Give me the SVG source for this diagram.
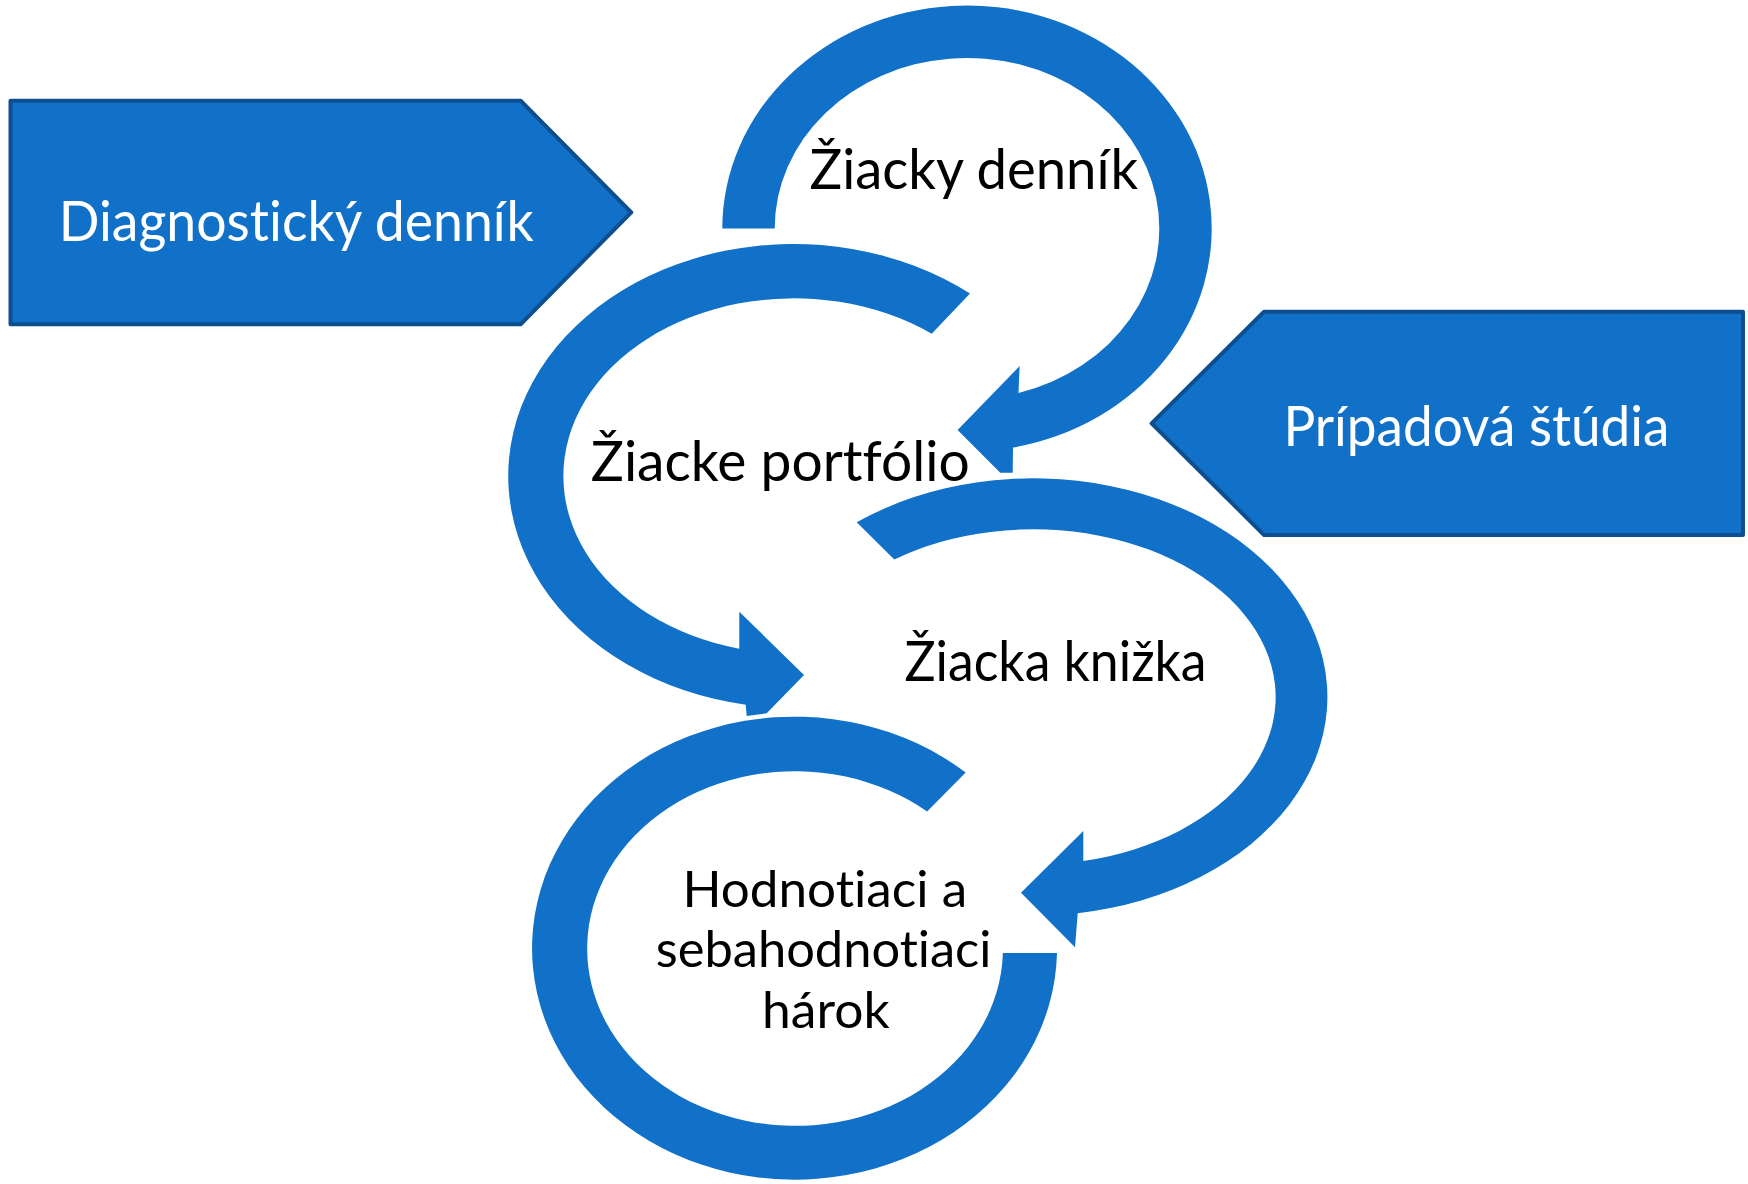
<svg xmlns="http://www.w3.org/2000/svg" width="1748" height="1184" viewBox="0 0 1748 1184">
<style>
.ring{fill:#1170C8}
.pent{fill:#1170C8;stroke:#0D4F8E;stroke-width:4;stroke-linejoin:round}
.lbl{font-family:"Lato","Open Sans","Liberation Sans",sans-serif;font-size:56px;fill:#000;text-anchor:middle;font-variant-ligatures:none;font-feature-settings:"liga" 0,"clig" 0}
.sm{font-size:50px}
.wl{fill:#fff}
</style>
<rect width="1748" height="1184" fill="#fff"/>
<g id="connectors"></g>
<g id="node-hodnotiaci">
<path class="ring" d="M1057,953 A262.5,231.5 0 1 1 965.7,772.6 L927.1,811.6 A207.9,177.3 0 1 0 1002.9,953 Z"/>
<text class="lbl sm" x="824.8" y="906.5" textLength="284.6" lengthAdjust="spacingAndGlyphs">Hodnotiaci a</text>
<text class="lbl sm" x="823.6" y="967" textLength="335.7" lengthAdjust="spacingAndGlyphs">sebahodnotiaci</text>
<text class="lbl sm" x="825.8" y="1027.5" textLength="127.6" lengthAdjust="spacingAndGlyphs">hárok</text>
</g>
<g id="node-kniz">
<path class="ring" d="M856.7,522.2 A294,218.7 0 1 1 1077.7,913.2 L1075,947.3 L1021,892.7 L1083.3,831 L1083.3,861.1 A242.4,167.7 0 1 0 894.3,559.6 Z"/>
<text class="lbl" x="1055.5" y="681" textLength="302" lengthAdjust="spacingAndGlyphs">Žiacka knižka</text>
</g>
<g id="node-portfolio">
<path class="ring" d="M970,293.6 A285.4,232 0 1 0 745.7,704.7 L746.7,716 L766.7,713.3 L804,675 L739.3,611.7 L739.3,648.7 A230.4,177.7 0 1 1 931.7,333.7 Z"/>
<text class="lbl" x="780.3" y="480.7" textLength="379" lengthAdjust="spacingAndGlyphs">Žiacke portfólio</text>
</g>
<g id="node-dennik">
<path class="ring" d="M722.3,228.5 A244.7,223 0 1 1 1013,447.6 L1012.7,472.7 L1000.3,472.7 L957.6,430 L1019.6,366 L1018.5,392.9 A192.3,170.6 0 1 0 774.7,228.5 Z"/>
<text class="lbl" x="973.8" y="189.3" textLength="328.5" lengthAdjust="spacingAndGlyphs">Žiacky denník</text>
</g>
<g id="node-diagnosticky">
<polygon class="pent" points="10.5,100.7 520.6,100.7 631.3,212.3 520.6,324.3 10.5,324.3"/>
<text class="lbl wl" x="296.3" y="241" textLength="475" lengthAdjust="spacingAndGlyphs">Diagnostický denník</text>
</g>
<g id="node-pripadova">
<polygon class="pent" points="1151.6,423.3 1264.1,311.7 1743,311.7 1743,535 1264.1,535"/>
<text class="lbl wl" x="1476.4" y="446" textLength="386" lengthAdjust="spacingAndGlyphs">Prípadová štúdia</text>
</g>
</svg>
